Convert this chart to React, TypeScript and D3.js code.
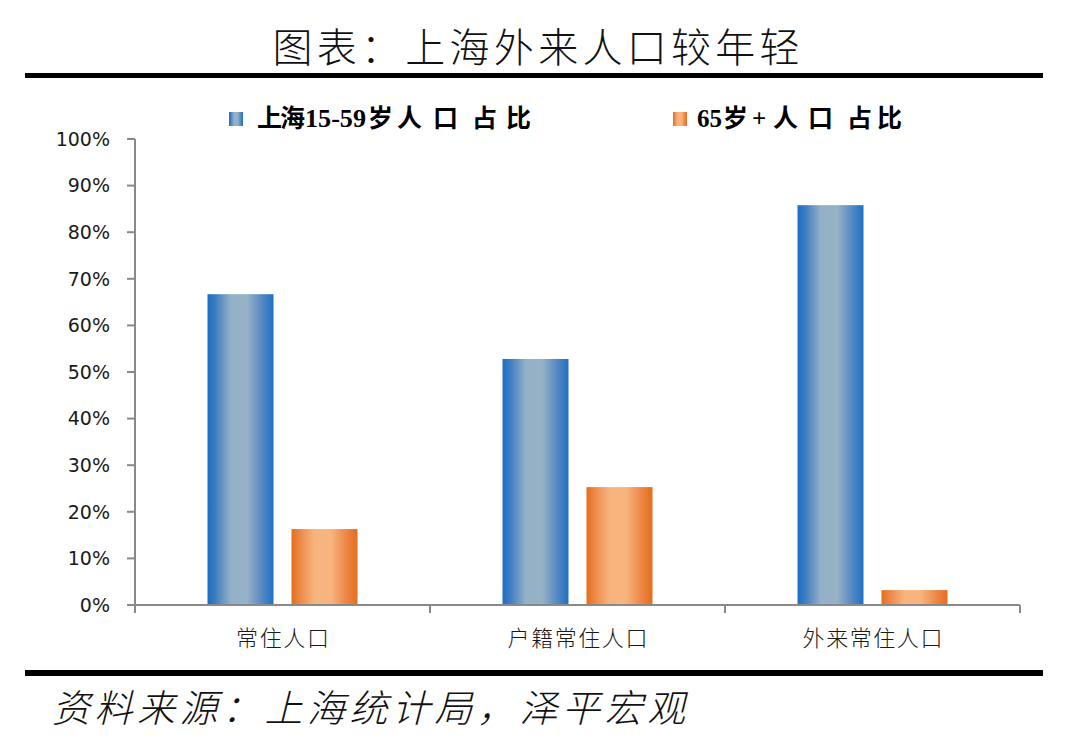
import React from "react";
import * as d3 from "d3";

const categories = ["常住人口", "户籍常住人口", "外来常住人口"];
const seriesNames = ["上海15-59岁人口占比", "65岁+人口占比"];
const workingAge = [66.7, 52.8, 85.8];
const elderly = [16.3, 25.3, 3.2];
const yTicks = [0, 10, 20, 30, 40, 50, 60, 70, 80, 90, 100];

const W = 1080;
const H = 738;
const plot = { left: 135, right: 1020, top: 139, bottom: 605 };

// legend layout (glyph start positions)
const legendSquareX = [229, 673];
const legendGlyphX = [
  [257, 280, 305, 368, 397, 433, 472, 506],
  [697, 723, 752, 773, 808, 847, 877],
];

function splitLabel(s: string): string[] {
  return s.match(/[\x00-\x7F]+|./gu) || [s];
}

export default function App() {
  const y = d3.scaleLinear().domain([0, 100]).range([plot.bottom, plot.top]);
  const x0 = d3.scaleBand<string>().domain(categories).range([plot.left, plot.right]).padding(0);
  const bw = x0.bandwidth();
  const x1 = d3
    .scaleBand<string>()
    .domain(seriesNames)
    .range([bw / 2 - 75, bw / 2 + 75])
    .paddingInner(18 / 84)
    .paddingOuter(0);

  const seriesValues = [workingAge, elderly];
  const gradIds = ["gBlue", "gOrange"];
  const catBoundaries = [...categories.map((c) => x0(c) as number), plot.right];

  const cjk = '"Noto Sans CJK SC", sans-serif';
  const legendFont = '"Liberation Serif", "Noto Sans CJK SC", serif';

  return (
    <svg width={W} height={H} style={{ position: "absolute", left: 0, top: 0, background: "#fff" }}>
      <defs>
        <linearGradient id="gBlue" x1="0" x2="1" y1="0" y2="0">
          <stop offset="0" stopColor="#1C6EC3" />
          <stop offset="0.12" stopColor="#3F7DC2" />
          <stop offset="0.35" stopColor="#92B0C7" />
          <stop offset="0.6" stopColor="#96B2C6" />
          <stop offset="0.85" stopColor="#4F84C3" />
          <stop offset="1" stopColor="#1D71C4" />
        </linearGradient>
        <linearGradient id="gOrange" x1="0" x2="1" y1="0" y2="0">
          <stop offset="0" stopColor="#E46D1C" />
          <stop offset="0.12" stopColor="#EC8745" />
          <stop offset="0.35" stopColor="#F7B47F" />
          <stop offset="0.6" stopColor="#F8B47E" />
          <stop offset="0.85" stopColor="#EC8341" />
          <stop offset="1" stopColor="#E56E1B" />
        </linearGradient>
      </defs>

      {/* Title */}
      <text
        x={536}
        y={62}
        textAnchor="middle"
        fontFamily={cjk}
        fontWeight={300}
        fontSize={40}
        fill="#111"
        textLength={527}
        lengthAdjust="spacing"
      >
        图表：上海外来人口较年轻
      </text>
      <rect x={25} y={73} width={1018} height={5} fill="#000" />

      {/* Legend */}
      {seriesNames.map((s, j) => {
        const parts = splitLabel(s);
        return (
          <g key={s}>
            <rect x={legendSquareX[j]} y={112} width={14} height={14} fill={`url(#${gradIds[j]})`} />
            <text y={127} fontFamily={legendFont} fontWeight="bold" fontSize={25} fill="#000">
              {parts.map((p, k) => (
                <tspan
                  key={k}
                  x={legendGlyphX[j][k]}
                  {...(p === "15-59" ? { textLength: 61, lengthAdjust: "spacingAndGlyphs" } : {})}
                >
                  {p}
                </tspan>
              ))}
            </text>
          </g>
        );
      })}

      {/* Y axis */}
      <line x1={plot.left} x2={plot.left} y1={plot.top} y2={plot.bottom} stroke="#898989" strokeWidth={2} />
      {yTicks.map((t) => (
        <g key={t}>
          <line x1={plot.left - 8} x2={plot.left} y1={y(t)} y2={y(t)} stroke="#898989" strokeWidth={2} />
          <text
            x={110}
            y={y(t)}
            dy="0.36em"
            textAnchor="end"
            fontFamily='"DejaVu Sans", sans-serif'
            fontSize={19}
            fill="#1a1a1a"
          >
            {t}%
          </text>
        </g>
      ))}

      {/* Bars */}
      {categories.map((c, i) => (
        <g key={c} transform={`translate(${x0(c)},0)`}>
          {seriesNames.map((s, j) => {
            const v = seriesValues[j][i];
            return (
              <rect
                key={s}
                x={x1(s)}
                y={y(v)}
                width={x1.bandwidth()}
                height={y(0) - y(v)}
                fill={`url(#${gradIds[j]})`}
              />
            );
          })}
        </g>
      ))}

      {/* X axis */}
      <line x1={plot.left} x2={plot.right} y1={plot.bottom} y2={plot.bottom} stroke="#898989" strokeWidth={2} />
      {catBoundaries.map((bx, i) => (
        <line key={i} x1={bx} x2={bx} y1={plot.bottom} y2={plot.bottom + 8} stroke="#898989" strokeWidth={2} />
      ))}
      {categories.map((c) => (
        <text
          key={c}
          x={(x0(c) as number) + bw / 2}
          y={646}
          textAnchor="middle"
          fontFamily={cjk}
          fontWeight={300}
          fontSize={22}
          fill="#1a1a1a"
          textLength={c.length * 23.3}
          lengthAdjust="spacing"
        >
          {c}
        </text>
      ))}

      {/* Bottom rule and source */}
      <rect x={25} y={670} width={1018} height={6} fill="#000" />
      <text
        x={52}
        y={722}
        fontFamily={cjk}
        fontWeight={300}
        fontStyle="italic"
        fontSize={38}
        fill="#111"
        textLength={633}
        lengthAdjust="spacing"
      >
        资料来源：上海统计局，泽平宏观
      </text>
    </svg>
  );
}
